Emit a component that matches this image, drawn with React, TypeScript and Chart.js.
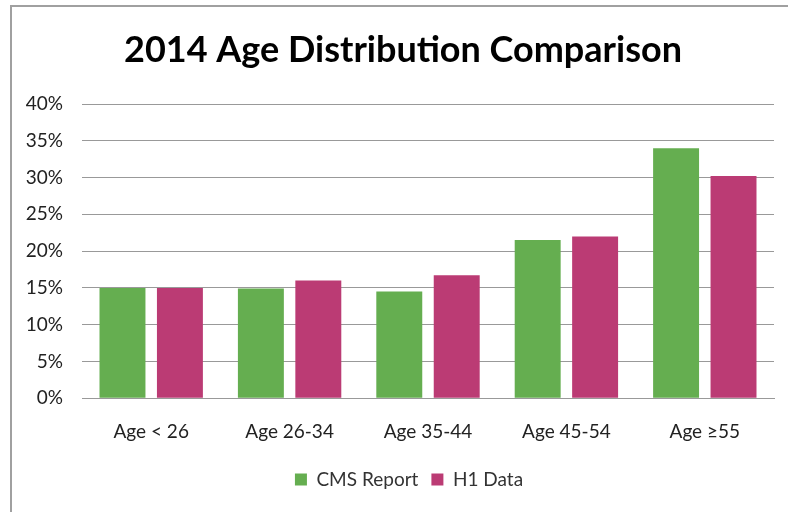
import React, { useEffect, useRef } from "react";
import { Chart, registerables } from "chart.js";

Chart.register(...registerables);

const categories = ["Age < 26", "Age 26-34", "Age 35-44", "Age 45-54", "Age \u226555"];
const cmsReport = [15.0, 14.9, 14.5, 21.5, 34.0];
const h1Data = [15.0, 16.0, 16.7, 22.0, 30.2];
const yTicks = [0, 5, 10, 15, 20, 25, 30, 35, 40];
const titleText = "2014 Age Distribution Comparison";
const seriesNames = ["CMS Report", "H1 Data"];

const FONT = "Lato, 'Open Sans', sans-serif";

const titlePlugin = {
  id: "centeredTitle",
  beforeDraw(chart: any) {
    const lg = chart.legend;
    if (lg) {
      lg.left += 22;
      lg.right += 22;
    }
  },
  afterDraw(chart: any) {
    const ctx = chart.ctx;
    ctx.save();
    ctx.font = `bold 36px ${FONT}`;
    ctx.fillStyle = "#000";
    ctx.textAlign = "center";
    ctx.textBaseline = "middle";
    ctx.fillText(titleText, 403, 50);
    ctx.restore();
  },
};

export default function App() {
  const canvasRef = useRef<HTMLCanvasElement | null>(null);

  useEffect(() => {
    const canvas = canvasRef.current;
    if (!canvas) return;
    const chart = new Chart(canvas, {
      type: "bar",
      data: {
        labels: categories,
        datasets: [
          {
            label: seriesNames[0],
            data: cmsReport,
            backgroundColor: "#65AE50",
            borderWidth: 0,
          },
          {
            label: seriesNames[1],
            data: h1Data,
            backgroundColor: "#BB3B74",
            borderWidth: 0,
          },
        ],
      },
      plugins: [titlePlugin],
      options: {
        animation: false,
        responsive: false,
        maintainAspectRatio: false,
        layout: { padding: { top: 104, left: 0, right: 14, bottom: 13 } },
        datasets: {
          bar: { categoryPercentage: 0.83, barPercentage: 0.8 },
        },
        plugins: {
          title: { display: false },
          legend: {
            display: true,
            position: "bottom",
            labels: {
              color: "#333",
              font: { family: FONT, size: 19 },
              boxWidth: 12,
              boxHeight: 12,
              padding: 13,
            },
          },
          tooltip: { enabled: false },
        },
        scales: {
          x: {
            grid: { display: false },
            border: { display: true, color: "#999999", width: 1 },
            ticks: {
              color: "#222",
              font: { family: FONT, size: 19 },
              padding: 14,
            },
          },
          y: {
            min: 0,
            max: 40,
            afterFit: (scale: any) => {
              scale.width = 82;
            },
            afterBuildTicks: (scale: any) => {
              scale.ticks = yTicks.map((v) => ({ value: v }));
            },
            grid: { color: "#999999", lineWidth: 1, drawTicks: false },
            border: { display: false },
            ticks: {
              color: "#222",
              font: { family: FONT, size: 19 },
              padding: 19,
              callback: (v: any) => `${v}%`,
            },
          },
        },
      },
    });
    return () => chart.destroy();
  }, []);

  return (
    <div
      style={{
        position: "fixed",
        left: 0,
        top: 0,
        width: 788,
        height: 512,
        background: "#fff",
        overflow: "hidden",
      }}
    >
      <canvas
        ref={canvasRef}
        width={788}
        height={512}
        style={{ position: "absolute", left: 0, top: 0, width: 788, height: 512 }}
      />
      <div
        style={{
          position: "absolute",
          left: 10,
          top: 5,
          width: 790,
          height: 520,
          borderTop: "2px solid #a0a0a0",
          borderLeft: "2px solid #a0a0a0",
          pointerEvents: "none",
        }}
      />
    </div>
  );
}
